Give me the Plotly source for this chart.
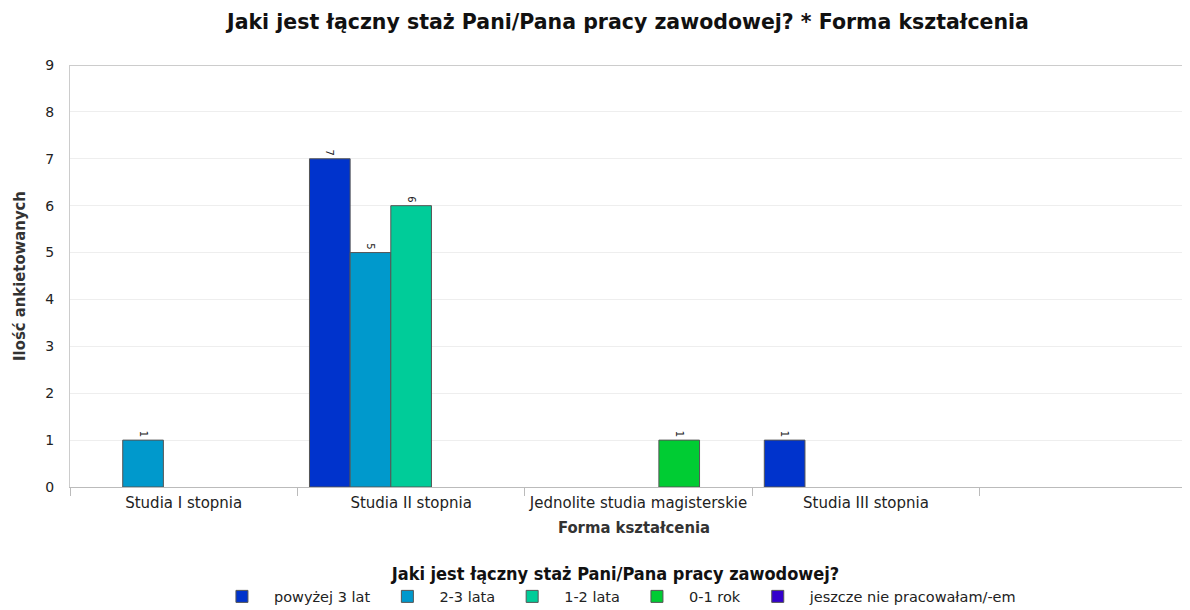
import plotly.graph_objects as go

categories = ["Studia I stopnia", "Studia II stopnia", "Jednolite studia magisterskie", "Studia III stopnia"]
series_names = ["powyżej 3 lat", "2-3 lata", "1-2 lata", "0-1 rok", "jeszcze nie pracowałam/-em"]
powyzej_3 = [None, 7, None, 1]
lata_2_3 = [1, 5, None, None]
lata_1_2 = [None, 6, None, None]
rok_0_1 = [None, None, 1, None]
nie_pracowalam = [None, None, None, None]
series_values = [powyzej_3, lata_2_3, lata_1_2, rok_0_1, nie_pracowalam]
colors = ["#0033CC", "#0099CC", "#00CC99", "#00CC33", "#3300CC"]

title_text = "Jaki jest łączny staż Pani/Pana pracy zawodowej? * Forma kształcenia"
legend_title = "Jaki jest łączny staż Pani/Pana pracy zawodowej?"
x_title = "Forma kształcenia"
y_title = "Ilość ankietowanych"

fig = go.Figure()
for name, vals, col in zip(series_names, series_values, colors):
    fig.add_trace(go.Bar(
        x=categories, y=vals, name=name,
        marker=dict(color=col, line=dict(color="#555555", width=1)),
        text=[("" if v is None else str(v)) for v in vals],
        textposition="outside", textangle=90,
        textfont=dict(family="DejaVu Sans", size=10, color="#222222"),
        cliponaxis=False,
    ))

fig.update_layout(
    width=1190, height=610,
    paper_bgcolor="white", plot_bgcolor="white",
    margin=dict(l=62, r=0, t=57, b=131, autoexpand=False),
    barmode="group", bargap=0.106, bargroupgap=0,
    title=dict(text=title_text, x=0.521, xanchor="center", y=0.977, yanchor="middle",
               automargin=False,
               font=dict(family="DejaVu Sans", size=20.5, color="#111111", weight="bold")),
    showlegend=True,
    legend=dict(orientation="h", x=0.484, xanchor="center", y=-0.166, yanchor="top",
                title=dict(text=legend_title, side="top center",
                           font=dict(family="DejaVu Sans Condensed", size=18, color="#111111", weight="bold")),
                font=dict(family="DejaVu Sans", size=14.5, color="#222222"),
                itemwidth=54, tracegroupgap=0),
    font=dict(family="DejaVu Sans", color="#222222"),
)

fig.update_xaxes(
    type="category", range=[-0.5, 4.46], automargin=False,
    tickson="boundaries", ticks="outside", ticklen=8, tickcolor="#bbbbbb",
    showline=True, linecolor="#bbbbbb", linewidth=1,
    showgrid=False, ticklabelstandoff=2, tickangle=0,
    tickfont=dict(family="DejaVu Sans", size=15, color="#222222"),
    title=dict(text=x_title, standoff=10,
               font=dict(family="DejaVu Sans Condensed", size=16.5, color="#333333", weight="bold")),
)
fig.update_yaxes(
    range=[0, 9], dtick=1, automargin=False,
    showgrid=True, gridcolor="#eeeeee", gridwidth=1,
    showline=True, linecolor="#cccccc", linewidth=1,
    zeroline=False,
    ticks="", ticklabelstandoff=12,
    tickfont=dict(family="DejaVu Sans", size=14, color="#222222"),
    title=dict(text=y_title, standoff=15,
               font=dict(family="DejaVu Sans Condensed", size=16.5, color="#333333", weight="bold")),
)

fig.add_shape(type="line", xref="paper", yref="y", x0=0, x1=1, y0=9, y1=9,
              line=dict(color="#cccccc", width=2))

fig.write_html("out.html")
